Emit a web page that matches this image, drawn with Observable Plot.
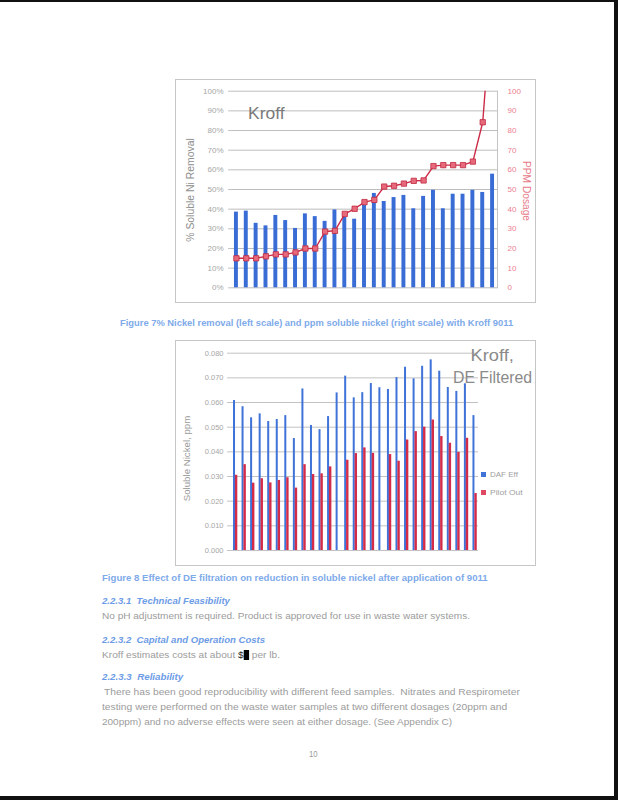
<!DOCTYPE html>
<html><head><meta charset="utf-8">
<script src="https://cdn.jsdelivr.net/npm/d3@7"></script>
<script src="https://cdn.jsdelivr.net/npm/@observablehq/plot@0.6"></script>
<style>
body{margin:0;background:#fff;}
#page{position:relative;width:618px;height:800px;overflow:hidden;background:#fff;font-family:"Liberation Sans",Arial,sans-serif;}
.t{position:absolute;white-space:nowrap;line-height:1;}
.box{position:absolute;border:1px solid #c6c6c6;box-sizing:border-box;}
.chart{position:absolute;}
.body{color:#9c9c9c;font-size:9.5px;}
.head{color:#6d9ce6;font-size:9.5px;font-style:italic;font-weight:bold;}
.cap{color:#7eaaea;font-size:9.5px;font-weight:bold;}
.sw{position:absolute;width:5px;height:5px;}
</style></head>
<body>
<div id="page">
  <div style="position:absolute;left:0;top:0;width:618px;height:2px;background:#111"></div>
  <div style="position:absolute;right:0;top:0;width:4px;height:800px;background:#111"></div>
  <div style="position:absolute;left:0;bottom:0;width:618px;height:4px;background:#111"></div>

  <div class="box" style="left:175px;top:79px;width:361px;height:224px"></div>
  <div class="chart" id="c1" style="left:175px;top:79px"></div>
  <div class="t" data-x="248" data-y="113" data-w="37" style="font-size:17px;color:#7a7a7a">Kroff</div>
  <div class="t" data-cx="191" data-cy="190" data-w="104" data-rot="-90" style="font-size:10px;color:#8e8e8e">% Soluble Ni Removal</div>
  <div class="t" data-cx="526" data-cy="191" data-w="60" data-rot="90" style="font-size:10px;color:#e77a88">PPM Dosage</div>
  <div class="t cap" data-x="120" data-y="323" data-w="393">Figure 7% Nickel removal (left scale) and ppm soluble nickel (right scale) with Kroff 9011</div>

  <div class="box" style="left:175px;top:340px;width:361px;height:226px"></div>
  <div class="chart" id="c2" style="left:175px;top:340px"></div>
  <div class="t" data-cx="492" data-cy="355" data-w="43" data-rot="0" style="font-size:17px;color:#8a8a8a">Kroff,</div>
  <div class="t" data-cx="492" data-cy="377" data-w="79" data-rot="0" style="font-size:17px;color:#8a8a8a">DE Filtered</div>
  <div class="t" data-cx="188" data-cy="458" data-w="86" data-rot="-90" style="font-size:9px;color:#9a9a9a">Soluble Nickel, ppm</div>
  <div class="sw" style="left:481px;top:472px;background:#3f73d8"></div>
  <div class="t" data-x="490" data-y="474.5" data-w="28" style="font-size:8px;color:#a0a0a0">DAF Eff</div>
  <div class="sw" style="left:481px;top:490px;background:#df4a62"></div>
  <div class="t" data-x="490" data-y="492.5" data-w="33" style="font-size:8px;color:#a0a0a0">Pilot Out</div>

  <div class="t cap" data-x="102" data-y="578" data-w="386">Figure 8 Effect of DE filtration on reduction in soluble nickel after application of 9011</div>
  <div class="t head" data-x="102" data-y="601" data-w="128">2.2.3.1&nbsp; Technical Feasibility</div>
  <div class="t body" data-x="102" data-y="616" data-w="368">No pH adjustment is required. Product is approved for use in waste water systems.</div>
  <div class="t head" data-x="102" data-y="640" data-w="163">2.2.3.2&nbsp; Capital and Operation Costs</div>
  <div class="t body" data-x="102" data-y="655" data-w="178">Kroff estimates costs at about <span style="color:#222">$</span><span style="display:inline-block;width:5px;height:10px;background:#000;vertical-align:-2px"></span> per lb.</div>
  <div class="t head" data-x="102" data-y="677" data-w="81">2.2.3.3&nbsp; Reliability</div>
  <div class="t body" data-x="104" data-y="692" data-w="416">There has been good reproducibility with different feed samples.&nbsp; Nitrates and Respirometer</div>
  <div class="t body" data-x="102" data-y="707" data-w="405">testing were performed on the waste water samples at two different dosages (20ppm and</div>
  <div class="t body" data-x="102" data-y="722" data-w="350">200ppm) and no adverse effects were seen at either dosage. (See Appendix C)</div>
  <div class="t body" data-x="309" data-y="754" data-w="9">10</div>
</div>
<script>
// ---------- Figure 7 data ----------
const samples1 = ["1","2","3","4","5","6","7","8","9","10","11","12","13","14","15","16","17","18","19","20","21","22","23","24","25","26","27"];
const removalPct = [38.5,39,32.8,31.5,36.8,34.2,30.2,37.6,36.2,33.8,39.6,35.8,34.9,42,48,43.9,45.9,47,40.2,46.5,49.6,40.2,47.6,47.6,49.6,48.5,57.8];
const dosagePpm  = [15,15,15,16,17,17,18,20,20,28.6,29,37.6,40.2,43.6,44.7,51.5,51.9,53,54.4,54.6,61.9,62.4,62.4,62.4,64.2,84.2,150];
const yTicks1 = [0,10,20,30,40,50,60,70,80,90,100];

// ---------- Figure 8 data ----------
const samples2 = ["1","2","3","4","5","6","7","8","9","10","11","12","13","14","15","16","17","18","19","20","21","22","23","24","25","26","27","28","29"];
const dafEff   = [0.0608,0.0583,0.0538,0.0554,0.0523,0.0531,0.0547,0.0454,0.0655,0.0507,0.0490,0.0543,0.0639,0.0707,0.0619,0.0640,0.0677,0.0660,0.0653,0.0701,0.0743,0.0696,0.0747,0.0773,0.0727,0.0661,0.0645,0.0676,0.0547];
const pilotOut = [0.0305,0.0348,0.0273,0.0291,0.0274,0.0284,0.0295,0.0253,0.0348,0.0308,0.0311,0.0339,null,0.0366,0.0393,0.0416,0.0394,null,0.0389,0.0362,0.0448,0.0482,0.0500,0.0529,0.0462,0.0435,0.0398,0.0455,0.0231];
const yTicks2 = [0,0.01,0.02,0.03,0.04,0.05,0.06,0.07,0.08];

const t1 = samples1.map((s,i)=>({s, removal: removalPct[i], dose: dosagePpm[i]}));
const c1 = Plot.plot({
  width: 361, height: 224,
  marginLeft: 56, marginRight: 39, marginTop: 11.7, marginBottom: 15.7,
  style: {fontFamily: "Liberation Sans, Arial, sans-serif", fontSize: "8px", background: "transparent"},
  x: {type: "band", domain: samples1, paddingInner: 0.6, paddingOuter: 0.3, round: false, axis: null},
  y: {domain: [0, 100], axis: null},
  marks: [
    Plot.gridY(yTicks1, {stroke: "#bdbdbd", strokeOpacity: 1}),
    Plot.frame({anchor: "right", stroke: "#c4c4c4"}),
    Plot.axisY(yTicks1, {anchor: "left", tickFormat: d => d + "%", tickSize: 3, tickPadding: 5, stroke: "#c4c4c4", fill: "#a6a6a6", label: null}),
    Plot.axisY(yTicks1, {anchor: "right", tickFormat: d => String(d), tickSize: 0, tickPadding: 10, fill: "#eb8090", label: null}),
    Plot.barY(t1, {x: "s", y: "removal", fill: "#3a6cd6"}),
    Plot.lineY(t1, {x: "s", y: "dose", stroke: "#cc2a46", strokeWidth: 1.4, clip: true}),
    Plot.dot(t1, {x: "s", y: "dose", symbol: "square", r: 3, fill: "#e66a7c", stroke: "#c0283f", strokeWidth: 0.8, clip: true})
  ]
});
document.getElementById("c1").appendChild(c1);

const t2 = samples2.map((g,i)=>({g, daf: dafEff[i], pilot: pilotOut[i]}));
const c2 = Plot.plot({
  width: 361, height: 226,
  marginLeft: 55, marginRight: 58, marginTop: 12.7, marginBottom: 16,
  style: {fontFamily: "Liberation Sans, Arial, sans-serif", fontSize: "7.5px", background: "transparent"},
  x: {type: "band", domain: samples2, paddingInner: 0, paddingOuter: 0, round: false, axis: null},
  y: {domain: [0, 0.08], axis: null},
  marks: [
    Plot.gridY(yTicks2, {stroke: "#c2c2c2", strokeOpacity: 1}),
    Plot.axisY(yTicks2, {anchor: "left", tickFormat: d3.format(".3f"), tickSize: 3, tickPadding: 4, stroke: "#c4c4c4", fill: "#a6a6a6", label: null}),
    Plot.barY(t2.filter(d => d.daf != null), {x: "g", y: "daf", fill: "#3f73d8", insetLeft: 3, insetRight: 3.55}),
    Plot.barY(t2.filter(d => d.pilot != null), {x: "g", y: "pilot", fill: "#d42c48", insetLeft: 4.9, insetRight: 1.25})
  ]
});
document.getElementById("c2").appendChild(c2);

// fit text lines to their measured widths in the reference
document.querySelectorAll(".t").forEach(el => {
  const w = el.offsetWidth, h = el.offsetHeight;
  const k = (+el.dataset.w) / w;
  if (el.dataset.cx !== undefined) {
    const rot = +el.dataset.rot || 0;
    el.style.left = (+el.dataset.cx - w / 2) + "px";
    el.style.top = (+el.dataset.cy - h / 2) + "px";
    el.style.transformOrigin = "50% 50%";
    el.style.transform = `rotate(${rot}deg) scaleX(${k})`;
  } else {
    el.style.left = el.dataset.x + "px";
    el.style.top = (+el.dataset.y - h / 2) + "px";
    el.style.transformOrigin = "0 50%";
    el.style.transform = `scaleX(${k})`;
  }
});
</script>
</body></html>
